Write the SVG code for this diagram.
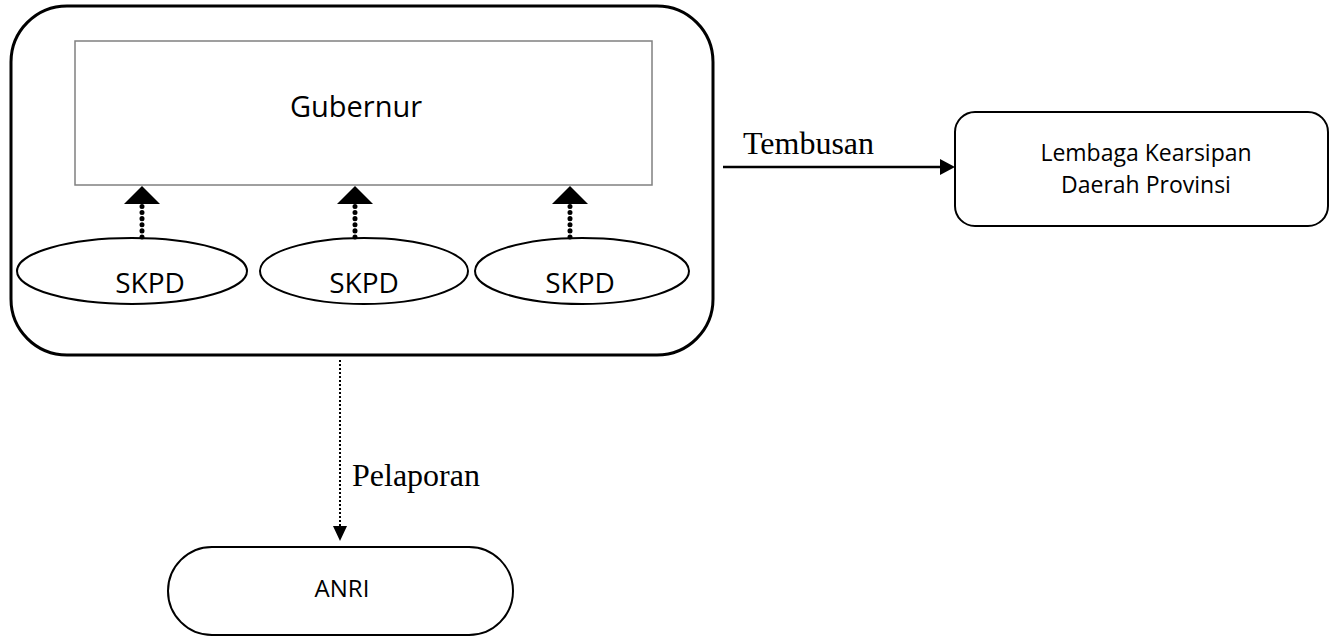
<svg xmlns="http://www.w3.org/2000/svg" width="1338" height="637" viewBox="0 0 1338 637">
<defs>
<style>
.box{fill:#fff;stroke:#000;stroke-width:2}
.sans{font-family:"Open Sans","Liberation Sans",sans-serif;fill:#000}
.serif{font-family:"Liberation Serif",serif;fill:#000}
.dot{stroke:#000;stroke-width:5;stroke-linecap:round;stroke-dasharray:0.1 6;fill:none}
</style>
</defs>
<g id="container">
<rect x="11" y="6" width="702" height="349" rx="56" ry="56" fill="#fff" stroke="#000" stroke-width="3"/>
</g>
<g id="gubernur">
<rect x="75" y="41" width="577" height="144" fill="#fff" stroke="#808080" stroke-width="1.5"/>
<text class="sans" x="356" y="117" font-size="29" text-anchor="middle">Gubernur</text>
</g>
<g id="skpd1">
<ellipse cx="132" cy="271" rx="115" ry="33" class="box" stroke-width="1.5"/>
<text class="sans" x="150" y="293" font-size="28" text-anchor="middle">SKPD</text>
</g>
<g id="skpd2">
<ellipse cx="364" cy="271" rx="104" ry="33" class="box" stroke-width="1.5"/>
<text class="sans" x="364" y="293" font-size="28" text-anchor="middle">SKPD</text>
</g>
<g id="skpd3">
<ellipse cx="582" cy="271" rx="107" ry="33" class="box" stroke-width="1.5"/>
<text class="sans" x="580" y="293" font-size="28" text-anchor="middle">SKPD</text>
</g>
<g id="lembaga">
<rect x="955" y="112" width="373" height="114" rx="20" ry="20" class="box"/>
<text class="sans" x="1146" y="161" font-size="23" text-anchor="middle">Lembaga Kearsipan</text>
<text class="sans" x="1146" y="193" font-size="23" text-anchor="middle">Daerah Provinsi</text>
</g>
<g id="anri">
<rect x="168" y="547" width="345" height="88" rx="44" ry="44" class="box" stroke-width="1.5"/>
<text class="sans" x="342" y="597" font-size="24" text-anchor="middle">ANRI</text>
</g>
<g id="connectors">
<line class="dot" x1="142" y1="237" x2="142" y2="204"/>
<polygon points="142,186 124,204 160,204" fill="#000"/>
<line class="dot" x1="355" y1="237" x2="355" y2="204"/>
<polygon points="355,186 337,204 373,204" fill="#000"/>
<line class="dot" x1="570" y1="237" x2="570" y2="204"/>
<polygon points="570,186 552,204 588,204" fill="#000"/>
<line x1="723" y1="167" x2="943" y2="167" stroke="#000" stroke-width="2.5"/>
<polygon points="955,167 940,159 940,175" fill="#000"/>
<text class="serif" x="743" y="154" font-size="32">Tembusan</text>
<line x1="340" y1="360" x2="340" y2="527" stroke="#000" stroke-width="2" stroke-dasharray="2 2"/>
<polygon points="340,541 333,526 347,526" fill="#000"/>
<text class="serif" x="352" y="486" font-size="32">Pelaporan</text>
</g>
</svg>
